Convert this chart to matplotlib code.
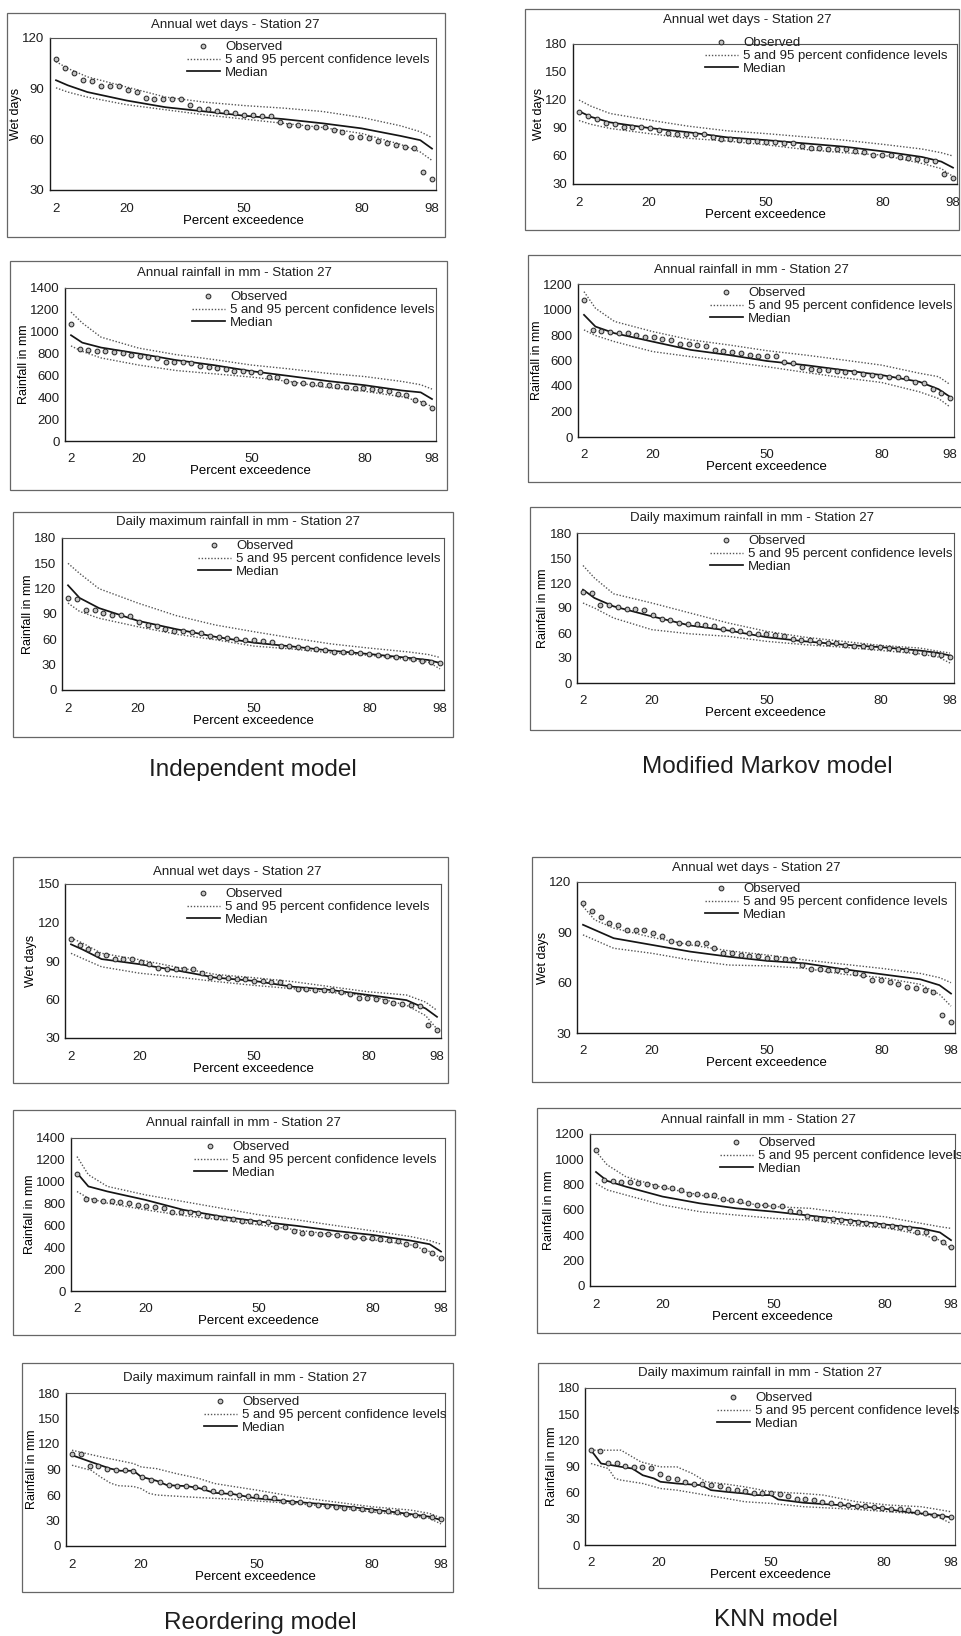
import numpy as np
import matplotlib
matplotlib.use('Agg')
import matplotlib.pyplot as plt
from matplotlib.patches import Rectangle
from matplotlib.lines import Line2D

plt.rcParams['font.family'] = ['Liberation Sans', 'DejaVu Sans']
plt.rcParams['text.color'] = '#1e1e1e'
plt.rcParams['xtick.color'] = '#1e1e1e'
plt.rcParams['ytick.color'] = '#1e1e1e'

# ---- observed annual series, Station 27 (ranked, 43 years) ----
PCT_OBS = np.linspace(2, 98, 43)

OBS_WET = [107.4, 102.5, 99.3, 95.4, 94.4, 91.5, 91.5, 91.5, 89.5, 87.9,
           84.6, 83.8, 83.8, 83.8, 83.8, 80.6, 77.9, 77.9, 76.7, 75.9,
           75.7, 74.7, 74.7, 73.9, 73.9, 70.4, 68.4, 68.4, 67.4, 67.4,
           67.4, 65.5, 64.5, 61.5, 61.5, 60.6, 59.0, 57.6, 56.6, 55.6,
           54.6, 40.5, 36.5]
OBS_RAIN = [1072, 838, 830, 822, 819, 816, 802, 786, 782, 772,
            758, 727, 727, 720, 717, 685, 676, 670, 659, 641,
            637, 635, 633, 590, 583, 552, 533, 528, 526, 518,
            510, 506, 494, 487, 481, 474, 467, 461, 430, 425,
            378, 345, 306]
OBS_DMAX = [108.8, 108, 94.2, 94.2, 91, 89, 89, 87.8, 81.1, 77.2,
            75.2, 72, 70.4, 70.4, 69.2, 68, 64.5, 63.3, 62.1, 60.1,
            59.3, 59.3, 58.2, 56.6, 52.6, 52.2, 51.4, 49.5, 48.3, 47.5,
            45.5, 44.7, 44.7, 43.5, 42.7, 41.5, 40.8, 39.6, 37.6, 36.4,
            34.8, 33.6, 31.7]

# ---- simulated median and 5/95 % levels ----
PCT_CURVE = [2, 5, 10, 20, 30, 40, 50, 60, 70, 80, 90, 95, 98]

# independent model
IND_WET_MED = [95, 92, 88, 83, 79, 76.5, 74, 72, 69.5, 66.5, 62, 59.5, 54.5]
IND_WET_HI = [106, 102, 97, 91, 85, 82, 80, 78.5, 76.5, 73, 68, 64.5, 61]
IND_WET_LO = [90.5, 88, 85, 80.5, 77.5, 74.5, 72, 69.5, 67, 63.5, 57, 52.5, 47.5]
IND_RAIN_MED = [968, 900, 855, 800, 740, 694, 639, 595, 550, 511, 462, 445, 384]
IND_RAIN_HI = [1180, 1080, 950, 850, 790, 745, 695, 660, 620, 590, 545, 515, 475]
IND_RAIN_LO = [870, 820, 760, 695, 645, 615, 585, 545, 490, 455, 405, 360, 315]
IND_DMAX_MED = [124, 109, 97, 82, 72, 63, 56, 51.5, 46.5, 42.5, 38, 35.5, 32]
IND_DMAX_HI = [150, 138, 120, 103, 88, 77, 69, 61.5, 54.5, 49.5, 45, 42, 38.5]
IND_DMAX_LO = [103, 93, 85, 75, 66, 59.5, 52, 48.5, 44, 41, 36, 33, 25]

# modified Markov model
MM_WET_MED = [108, 102, 96, 90, 85.5, 80, 77, 73.5, 70, 65, 59, 54, 47.5]
MM_WET_HI = [120, 113.5, 105.5, 98.5, 92, 87, 84, 80.5, 77, 72.5, 67.5, 63.5, 60]
MM_WET_LO = [98, 94, 89.5, 84, 79, 76, 72, 67, 63.5, 61, 52, 46.5, 38]
MM_RAIN_MED = [958, 866, 814, 748, 683, 643, 596, 564, 525, 486, 433, 375, 315]
MM_RAIN_HI = [1140, 1010, 906, 827, 762, 722, 677, 643, 604, 564, 500, 473, 412]
MM_RAIN_LO = [840, 796, 748, 670, 630, 591, 551, 507, 465, 428, 354, 302, 236]
MM_DMAX_MED = [112, 102, 92, 80, 69, 63, 55, 50, 46, 43, 39, 36, 33]
MM_DMAX_HI = [141, 126, 107, 96, 84, 72, 62, 55, 50, 45, 42, 38, 36]
MM_DMAX_LO = [96, 90, 78, 64, 59, 56, 50, 46, 43, 39, 35, 31, 24]

# reordering model
RE_WET_MED = [103, 99, 91.5, 87.5, 82.5, 77, 74.5, 70, 67.5, 63.5, 59.5, 53, 46.5]
RE_WET_HI = [108, 104, 96, 91, 85, 79.5, 77, 74, 70, 66, 63.5, 58, 51.5]
RE_WET_LO = [96, 92, 85.5, 80.5, 77.5, 74, 71, 68.5, 65.5, 63, 55.5, 47.5, 37]
RE_RAIN_MED = [1080, 957, 911, 834, 743, 682, 636, 596, 550, 513, 461, 428, 361]
RE_RAIN_HI = [1230, 1064, 957, 880, 819, 758, 697, 651, 600, 550, 498, 461, 428]
RE_RAIN_LO = [910, 850, 804, 743, 691, 651, 605, 559, 513, 468, 422, 361, 300]
RE_DMAX_MED_PCT = [2, 9.4, 12, 14.6, 18, 20, 24, 26.7, 32, 35.4, 38.9, 44, 50, 60, 70, 80, 90, 95, 98]
RE_DMAX_MED = [106.8, 95, 91, 88.5, 88.5, 81.4, 76.7, 71.6, 70.4, 67.7, 62.6, 61, 56, 52, 48.2, 43, 37.6, 34.5, 30.6]
RE_DMAX_HI_PCT = [2, 9.4, 18, 20, 24, 29, 35, 39, 44, 50, 60, 70, 80, 90, 95, 98]
RE_DMAX_HI = [112.7, 105, 97, 93, 91, 85.3, 79.5, 73.6, 70, 65.8, 58, 52, 46.2, 42.3, 38.4, 33]
RE_DMAX_LO_PCT = [2, 7, 9.5, 12, 14, 18, 20, 22, 24, 35, 44, 50, 60, 70, 80, 90, 95, 98]
RE_DMAX_LO = [95, 89, 81, 74, 71, 70, 67.5, 62, 60, 57, 55, 53, 50, 46, 40, 36, 32.5, 26]

# KNN model
KNN_WET_MED = [94.5, 91.5, 86.5, 82.5, 78.5, 75.5, 73, 71.5, 68, 65, 62, 58.5, 53.5]
KNN_WET_HI = [105.5, 97.5, 92.5, 87, 82.5, 79, 76.5, 73.5, 71, 68.5, 65.5, 63, 60]
KNN_WET_LO = [88.5, 85.5, 80.5, 77.5, 73.5, 70.5, 70, 68.5, 65, 63, 59, 53, 46]
KNN_RAIN_MED = [900, 830, 785, 706, 653, 613, 587, 555, 521, 486, 455, 423, 362]
KNN_RAIN_HI = [1063, 957, 864, 777, 719, 661, 627, 613, 574, 547, 494, 468, 455]
KNN_RAIN_LO = [811, 759, 719, 640, 587, 560, 534, 521, 481, 460, 407, 362, 296]
KNN_DMAX_MED_PCT = [2, 4.7, 7.5, 10, 13, 15.8, 18.8, 20.5, 24.9, 31.4, 34, 38, 43, 45.8, 50, 51.9,
                    58.8, 64, 72.8, 79.7, 85.8, 90, 94.4, 98]
KNN_DMAX_MED = [108.7, 93.4, 91.5, 89.6, 87.7, 80, 76.3, 72.5, 70.5, 68.6, 62.9, 61, 59, 57.2, 57.2, 52.2,
                48.4, 46.9, 44.6, 42, 38.1, 36.2, 34.3, 31.6]
KNN_DMAX_HI_PCT = [2, 10, 15.3, 20.5, 24.9, 29, 32.7, 38, 43, 50, 58.8, 64, 72.8, 81.5, 90, 94.4, 98]
KNN_DMAX_HI = [108.7, 108.7, 95.3, 89.6, 89.6, 82, 72.5, 69.8, 66.7, 61, 59, 57.2, 49.6, 45.8, 43.9, 40.8, 38.1]
KNN_DMAX_LO_PCT = [2, 6.6, 8.4, 10, 15.8, 20.5, 24.9, 32.7, 38, 43, 50, 58.8, 72.8, 81.5, 90, 94.4, 98]
KNN_DMAX_LO = [93.4, 87.7, 76.3, 74.4, 70.5, 64.8, 62.9, 57.2, 53.4, 49.6, 47.7, 43.9, 40.8, 38.1, 35.5, 32.4, 24.8]

X_TICKS = [2, 20, 50, 80, 98]
TITLE_WET = 'Annual wet days - Station 27'
TITLE_RAIN = 'Annual rainfall in mm - Station 27'
TITLE_DMAX = 'Daily maximum rainfall in mm - Station 27'
LEG_LABELS = ['Observed', '5 and 95 percent confidence levels', 'Median']

XMIN, XMAX = 0.5, 99.0
W, H = 962, 1636

fig = plt.figure(figsize=(W / 100, H / 100), dpi=100)
fig.patch.set_facecolor('white')

# (values, lo, hi, med, title, ylabel, ylim, ytick step,
#  chart box px, first/last point x px, plot top/bottom px, title centre px, legend text x px, legend row offset px)
panels = [
    (OBS_WET, (PCT_CURVE, IND_WET_LO), (PCT_CURVE, IND_WET_HI), (PCT_CURVE, IND_WET_MED),
     TITLE_WET, 'Wet days', (30, 120), 30,
     (7, 13, 445, 237), (56, 432), (38, 190), (235, 25), 225, 10),
    (OBS_RAIN, (PCT_CURVE, IND_RAIN_LO), (PCT_CURVE, IND_RAIN_HI), (PCT_CURVE, IND_RAIN_MED),
     TITLE_RAIN, 'Rainfall in mm', (0, 1400), 200,
     (10, 261, 447, 490), (71, 432), (288, 441), (234, 273), 230, 10),
    (OBS_DMAX, (PCT_CURVE, IND_DMAX_LO), (PCT_CURVE, IND_DMAX_HI), (PCT_CURVE, IND_DMAX_MED),
     TITLE_DMAX, 'Rainfall in mm', (0, 180), 30,
     (13, 512, 453, 737), (68, 440), (538, 690), (238, 522), 236, 9),
    (OBS_WET, (PCT_CURVE, MM_WET_LO), (PCT_CURVE, MM_WET_HI), (PCT_CURVE, MM_WET_MED),
     TITLE_WET, 'Wet days', (30, 180), 30,
     (525, 9, 959, 230), (579, 953), (44, 184), (747, 20), 743, 0),
    (OBS_RAIN, (PCT_CURVE, MM_RAIN_LO), (PCT_CURVE, MM_RAIN_HI), (PCT_CURVE, MM_RAIN_MED),
     TITLE_RAIN, 'Rainfall in mm', (0, 1200), 200,
     (528, 255, 968, 482), (584, 950), (284, 437), (751, 270), 748, 10),
    (OBS_DMAX, (PCT_CURVE, MM_DMAX_LO), (PCT_CURVE, MM_DMAX_HI), (PCT_CURVE, MM_DMAX_MED),
     TITLE_DMAX, 'Rainfall in mm', (0, 180), 30,
     (530, 507, 968, 730), (583, 950), (533, 683), (752, 518), 748, 9),
    (OBS_WET, (PCT_CURVE, RE_WET_LO), (PCT_CURVE, RE_WET_HI), (PCT_CURVE, RE_WET_MED),
     TITLE_WET, 'Wet days', (30, 150), 30,
     (13, 857, 448, 1083), (71, 437), (884, 1038), (237, 872), 225, 11),
    (OBS_RAIN, (PCT_CURVE, RE_RAIN_LO), (PCT_CURVE, RE_RAIN_HI), (PCT_CURVE, RE_RAIN_MED),
     TITLE_RAIN, 'Rainfall in mm', (0, 1400), 200,
     (13, 1110, 455, 1335), (77, 441), (1138, 1291), (243, 1123), 232, 10),
    (OBS_DMAX, (RE_DMAX_LO_PCT, RE_DMAX_LO), (RE_DMAX_HI_PCT, RE_DMAX_HI), (RE_DMAX_MED_PCT, RE_DMAX_MED),
     TITLE_DMAX, 'Rainfall in mm', (0, 180), 30,
     (22, 1363, 453, 1592), (72, 441), (1393, 1546), (245, 1378), 242, 10),
    (OBS_WET, (PCT_CURVE, KNN_WET_LO), (PCT_CURVE, KNN_WET_HI), (PCT_CURVE, KNN_WET_MED),
     TITLE_WET, 'Wet days', (30, 120), 30,
     (532, 857, 990, 1082), (583, 951), (882, 1033), (756, 868), 743, 8),
    (OBS_RAIN, (PCT_CURVE, KNN_RAIN_LO), (PCT_CURVE, KNN_RAIN_HI), (PCT_CURVE, KNN_RAIN_MED),
     TITLE_RAIN, 'Rainfall in mm', (0, 1200), 200,
     (537, 1108, 990, 1333), (596, 951), (1134, 1286), (758, 1120), 758, 10),
    (OBS_DMAX, (KNN_DMAX_LO_PCT, KNN_DMAX_LO), (KNN_DMAX_HI_PCT, KNN_DMAX_HI), (KNN_DMAX_MED_PCT, KNN_DMAX_MED),
     TITLE_DMAX, 'Rainfall in mm', (0, 180), 30,
     (538, 1363, 990, 1588), (591, 951), (1388, 1545), (760, 1373), 755, 11),
]

captions = [('Independent model', 253, 770), ('Modified Markov model', 767, 767),
            ('Reordering model', 260, 1623), ('KNN model', 776, 1620)]

obs_style = dict(ls='none', marker='o', ms=3.4, mfc='#c4c4c4', mec='#2a2a2a', mew=0.75)
band_style = dict(color='#555555', lw=1.0, ls=(0, (1, 1.3)))
med_style = dict(color='#151515', lw=1.25)

for (obs, lo, hi, med, title, ylabel, ylim, ystep,
     box, xpts, ytb, tpos, leg_x, leg_dy) in panels:
    # chart frame
    bl, bt, br, bb = box
    fig.add_artist(Rectangle((bl / W, 1 - bb / H), (br - bl) / W, (bb - bt) / H,
                             transform=fig.transFigure, fill=False, ec='#666666', lw=0.9))
    fig.text(tpos[0] / W, 1 - tpos[1] / H, title, ha='center', va='center', fontsize=9.5)

    # plot area, scaled so the ranked points sit on 2 ... 98
    s = (xpts[1] - xpts[0]) / 96.0
    left = xpts[0] - (2 - XMIN) * s
    right = xpts[1] + (XMAX - 98) * s
    top, bottom = ytb
    ax = fig.add_axes([left / W, 1 - bottom / H, (right - left) / W, (bottom - top) / H])

    ax.plot(lo[0], lo[1], **band_style)
    ax.plot(hi[0], hi[1], **band_style)
    ax.plot(med[0], med[1], **med_style)
    ax.plot(PCT_OBS, obs, **obs_style)

    ax.set_xlim(XMIN, XMAX)
    ax.set_ylim(*ylim)
    ax.set_xticks(X_TICKS)
    ax.set_yticks(np.arange(ylim[0], ylim[1] + 1, ystep))
    ax.tick_params(axis='x', length=0, pad=9, labelsize=9.5)
    ax.tick_params(axis='y', length=0, pad=4, labelsize=9.5)
    ax.set_xlabel('Percent exceedence', fontsize=9.5, labelpad=0)
    ax.set_ylabel(ylabel, fontsize=9, labelpad=0)
    for side in ['left', 'bottom']:
        ax.spines[side].set_color('#1a1a1a')
        ax.spines[side].set_linewidth(1.0)
    for side in ['top', 'right']:
        ax.spines[side].set_color('#555555')
        ax.spines[side].set_linewidth(0.8)

    handles = [Line2D([], [], **obs_style), Line2D([], [], **band_style), Line2D([], [], **med_style)]
    ax.legend(handles, LEG_LABELS, loc='upper left',
              bbox_to_anchor=((leg_x - 38 - left) / (right - left), 1 - (leg_dy - 7) / (bottom - top)),
              frameon=False, borderpad=0, borderaxespad=0, handlelength=2.5, handletextpad=0.4,
              labelspacing=0.05, fontsize=9.5, numpoints=1)

for text, cx, cy in captions:
    fig.text(cx / W, 1 - cy / H, text, ha='center', va='center', fontsize=17.5)

fig.savefig('out.png', dpi=100, facecolor='white')
